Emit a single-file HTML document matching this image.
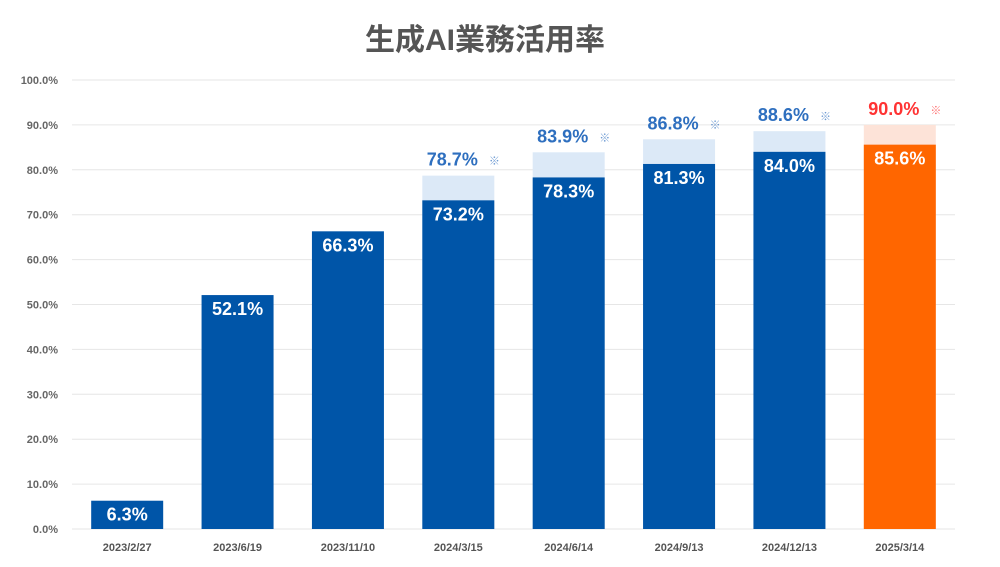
<!DOCTYPE html>
<html><head><meta charset="utf-8"><style>
body{margin:0;background:#fff;width:1000px;height:562px;overflow:hidden;font-family:"Liberation Sans","Noto Sans CJK JP",sans-serif}
</style></head><body>
<svg id="chart" width="1000" height="562" xmlns="http://www.w3.org/2000/svg">
<text x="485" y="50" text-anchor="middle" font-size="30" font-weight="bold" fill="#555" font-family="Liberation Sans, Noto Sans CJK JP, sans-serif">生成AI業務活用率</text>
<g id="grid"></g><g id="bars"></g><g id="labels"></g>
</svg>
<script>
const categories=["2023/2/27","2023/6/19","2023/11/10","2024/3/15","2024/6/14","2024/9/13","2024/12/13","2025/3/14"];
const mainValues=[6.3,52.1,66.3,73.2,78.3,81.3,84.0,85.6];
const totalValues=[null,null,null,78.7,83.9,86.8,88.6,90.0];
const yTicks=[0,10,20,30,40,50,60,70,80,90,100];
const NS="http://www.w3.org/2000/svg";
const x0=72,x1=955,yb=529,yt=80;
const y=v=>yb-(yb-yt)*v/100;
const step=(x1-x0)/categories.length;
const cx=i=>x0+step*(i+0.5);
const bw=72;
function mk(tag,attrs,parent,text){const e=document.createElementNS(NS,tag);for(const k in attrs)e.setAttribute(k,attrs[k]);if(text!==undefined)e.textContent=text;parent.appendChild(e);return e;}
const grid=document.getElementById('grid'),bars=document.getElementById('bars'),labels=document.getElementById('labels');
yTicks.forEach(t=>{
 const l=mk('line',{x1:x0,x2:x1,y1:y(t),y2:y(t),stroke:'#e6e6e6','stroke-width':1},grid);
 
 
 const tx=mk('text',{x:58,y:y(t)+4,'text-anchor':'end','font-size':11,'font-weight':'bold',fill:'#666'},grid,t.toFixed(1)+'%');
 
 
});
categories.forEach((c,i)=>{
 const last=i===categories.length-1;
 const dark=last?'#ff6600':'#0055a8', light=last?'#fde3d8':'#dce9f7', top=last?'#ff3333':'#2e6fbf';
 if(totalValues[i]!==null){
  const r=mk('rect',{x:cx(i)-bw/2,y:y(totalValues[i]),width:bw,height:yb-y(totalValues[i]),fill:light},bars);
  
  
  const t=mk('text',{x:cx(i)-6,y:y(totalValues[i])-10,'text-anchor':'middle','font-size':18,'font-weight':'bold',fill:top},labels,totalValues[i].toFixed(1)+'%');
  
  
  const s=mk('text',{x:cx(i)+36,y:y(totalValues[i])-11,'text-anchor':'middle','font-size':11,fill:top,opacity:0.7},labels,'※');
  
  
 }
 const r=mk('rect',{x:cx(i)-bw/2,y:y(mainValues[i]),width:bw,height:yb-y(mainValues[i]),fill:dark},bars);
 
 
 const t=mk('text',{x:cx(i),y:y(mainValues[i])+20,'text-anchor':'middle','font-size':18,'font-weight':'bold',fill:'#fff'},labels,mainValues[i].toFixed(1)+'%');
 
 
 const xl=mk('text',{x:cx(i),y:551,'text-anchor':'middle','font-size':11,'font-weight':'bold',fill:'#555'},labels,c);
 
 
});
</script>
</body></html>
